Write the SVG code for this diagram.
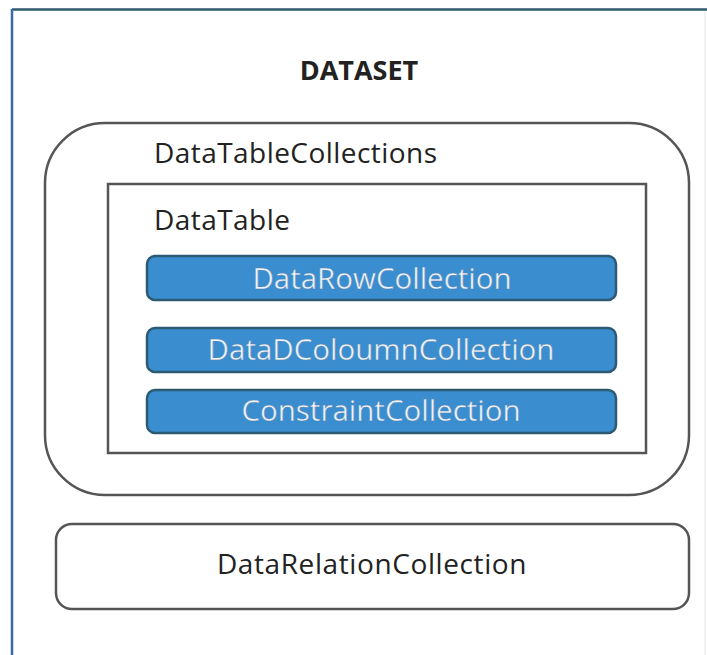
<svg xmlns="http://www.w3.org/2000/svg" width="707" height="655" viewBox="0 0 707 655">
  <style>
    .lbl { font-family: "Open Sans", "Noto Sans", "Liberation Sans", sans-serif; fill: #222; }
    .bar { fill: #3a8ed0; stroke: #2b5a72; stroke-width: 2.5; }
    .barText { font-family: "Open Sans", "Noto Sans", "Liberation Sans", sans-serif; font-size: 29.5px; fill: #eef4fb; text-anchor: middle; stroke: #5a7fa8; stroke-width: 0.4; }
    .box { fill: #ffffff; stroke: #555; stroke-width: 2.5; }
  </style>
  <rect width="707" height="655" fill="#ffffff"/>

  <!-- dataset frame -->
  <g id="dataset">
    <line x1="12" y1="9.5" x2="707" y2="9.5" stroke="#2e5a6e" stroke-width="2.5"/>
    <line x1="12" y1="9" x2="12" y2="655" stroke="#3a6aa8" stroke-width="2.5"/>
    <line x1="705" y1="11" x2="705" y2="655" stroke="#e6e6e6" stroke-width="1"/>
    <text class="lbl" x="359" y="80" font-size="27" font-weight="bold" text-anchor="middle">DATASET</text>
  </g>

  <!-- table collection -->
  <g id="dataTableCollections">
    <rect class="box" x="45" y="123" width="644" height="372" rx="60" ry="60"/>
    <text class="lbl" x="154" y="163" font-size="28" letter-spacing="0.45">DataTableCollections</text>
  </g>

  <g id="dataTable">
    <rect class="box" x="108" y="184" width="538" height="269" stroke="#444"/>
    <text class="lbl" x="154" y="230" font-size="28" letter-spacing="0.45">DataTable</text>
  </g>

  <g id="dataRowCollection">
    <rect class="bar" x="147" y="256" width="469" height="44" rx="8"/>
    <text class="barText" x="382" y="289">DataRowCollection</text>
  </g>

  <g id="dataColumnCollection">
    <rect class="bar" x="147" y="328" width="469" height="44" rx="8"/>
    <text class="barText" x="381" y="360">DataDColoumnCollection</text>
  </g>

  <g id="constraintCollection">
    <rect class="bar" x="147" y="390" width="469" height="43" rx="8"/>
    <text class="barText" x="381" y="421">ConstraintCollection</text>
  </g>

  <g id="dataRelationCollection">
    <rect class="box" x="56" y="524" width="633" height="85" rx="16" ry="16"/>
    <text class="lbl" x="372" y="574" font-size="28" letter-spacing="0.6" text-anchor="middle" fill="#333">DataRelationCollection</text>
  </g>

  <g id="connectors"/>
</svg>
